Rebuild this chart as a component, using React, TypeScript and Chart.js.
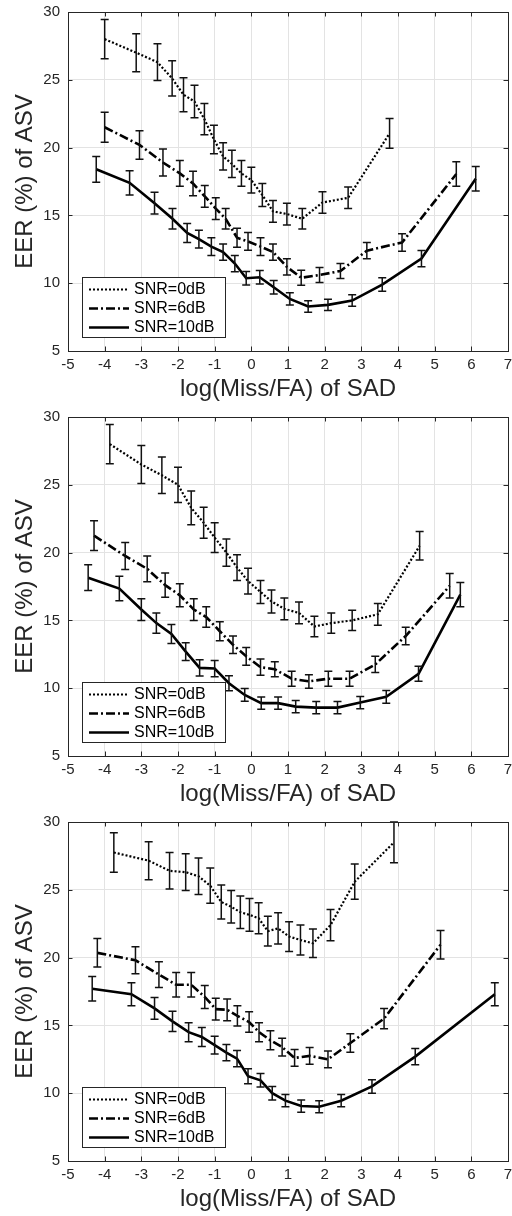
import React, { useEffect, useRef } from "react";
import { Chart, registerables } from "chart.js";

Chart.register(...registerables);

// ---------- shared labels / ticks ----------
const seriesLabels = ["SNR=0dB", "SNR=6dB", "SNR=10dB"];
const xTickValues = [-5, -4, -3, -2, -1, 0, 1, 2, 3, 4, 5, 6, 7];
const yTickValues = [5, 10, 15, 20, 25, 30];
const xTitle = "log(Miss/FA) of SAD";
const yTitle = "EER (%) of ASV";

// ---------- panel 1 ----------
const p1x0 = [-4.0, -3.14, -2.56, -2.16, -1.85, -1.55, -1.28, -1.02, -0.77, -0.53, -0.27, 0.0, 0.3, 0.59, 0.97, 1.39, 1.94, 2.64, 3.77];
const p1y0 = [28.0, 27.0, 26.3, 25.1, 23.9, 23.4, 22.1, 20.6, 19.35, 18.8, 18.1, 17.6, 16.5, 15.3, 15.1, 14.75, 15.95, 16.3, 21.05];
const p1e0 = [1.45, 1.4, 1.35, 1.3, 1.25, 1.2, 1.15, 1.05, 1.0, 1.0, 0.95, 0.95, 0.85, 0.8, 0.8, 0.75, 0.8, 0.8, 1.1];

const p1x1 = [-4.0, -3.05, -2.41, -1.95, -1.59, -1.27, -0.97, -0.7, -0.39, -0.09, 0.25, 0.59, 0.97, 1.36, 1.86, 2.43, 3.15, 4.11, 5.59];
const p1y1 = [21.5, 20.2, 18.9, 18.1, 17.35, 16.4, 15.5, 14.75, 13.35, 13.08, 12.7, 12.3, 11.2, 10.4, 10.6, 10.9, 12.4, 13.0, 18.05];
const p1e1 = [1.1, 1.05, 1.0, 0.95, 0.9, 0.8, 0.8, 0.75, 0.7, 0.65, 0.65, 0.6, 0.6, 0.55, 0.55, 0.55, 0.6, 0.65, 0.9];

const p1x2 = [-4.23, -3.32, -2.64, -2.15, -1.75, -1.43, -1.09, -0.77, -0.45, -0.14, 0.23, 0.61, 1.05, 1.55, 2.09, 2.75, 3.57, 4.64, 6.12];
const p1y2 = [18.4, 17.4, 15.9, 14.75, 13.7, 13.25, 12.7, 12.3, 11.45, 10.37, 10.44, 9.7, 8.84, 8.28, 8.4, 8.72, 9.9, 11.82, 17.7];
const p1e2 = [0.95, 0.9, 0.8, 0.75, 0.7, 0.65, 0.65, 0.6, 0.6, 0.5, 0.5, 0.5, 0.45, 0.42, 0.42, 0.42, 0.5, 0.6, 0.9];

// ---------- panel 2 ----------
const p2x0 = [-3.86, -3.0, -2.44, -2.0, -1.64, -1.3, -1.0, -0.68, -0.39, -0.09, 0.25, 0.55, 0.9, 1.3, 1.72, 2.18, 2.75, 3.45, 4.59];
const p2y0 = [28.0, 26.5, 25.7, 25.0, 23.3, 22.2, 21.1, 20.0, 18.9, 17.9, 17.1, 16.4, 15.85, 15.55, 14.55, 14.8, 15.0, 15.45, 20.5];
const p2e0 = [1.45, 1.4, 1.35, 1.3, 1.25, 1.15, 1.1, 1.0, 0.95, 0.95, 0.85, 0.85, 0.8, 0.8, 0.75, 0.75, 0.75, 0.8, 1.05];

const p2x1 = [-4.29, -3.44, -2.84, -2.35, -1.95, -1.57, -1.23, -0.86, -0.5, -0.14, 0.25, 0.64, 1.1, 1.57, 2.1, 2.68, 3.38, 4.21, 5.41];
const p2y1 = [21.25, 19.75, 18.8, 17.6, 16.85, 15.8, 15.25, 14.2, 13.2, 12.35, 11.55, 11.4, 10.7, 10.5, 10.7, 10.7, 11.75, 13.85, 17.55];
const p2e1 = [1.1, 1.0, 0.95, 0.9, 0.85, 0.8, 0.75, 0.7, 0.65, 0.65, 0.6, 0.55, 0.55, 0.5, 0.55, 0.55, 0.6, 0.65, 0.9];

const p2x2 = [-4.45, -3.6, -3.0, -2.59, -2.18, -1.79, -1.41, -1.0, -0.61, -0.18, 0.27, 0.73, 1.21, 1.77, 2.35, 2.97, 3.68, 4.56, 5.7];
const p2y2 = [18.15, 17.35, 15.8, 14.8, 14.0, 12.7, 11.5, 11.45, 10.37, 9.5, 8.9, 8.9, 8.64, 8.57, 8.57, 8.94, 9.36, 11.06, 16.9];
const p2e2 = [0.95, 0.9, 0.8, 0.75, 0.7, 0.65, 0.6, 0.6, 0.55, 0.47, 0.45, 0.45, 0.45, 0.45, 0.45, 0.45, 0.47, 0.55, 0.9];

// ---------- panel 3 ----------
const p3x0 = [-3.75, -2.8, -2.23, -1.79, -1.44, -1.12, -0.82, -0.55, -0.3, -0.05, 0.2, 0.45, 0.73, 1.03, 1.34, 1.68, 2.16, 2.82, 3.89];
const p3y0 = [27.75, 27.15, 26.4, 26.3, 26.0, 25.3, 24.1, 23.75, 23.35, 23.15, 22.9, 21.95, 22.15, 21.55, 21.3, 21.05, 22.4, 25.6, 28.5];
const p3e0 = [1.45, 1.4, 1.35, 1.35, 1.35, 1.3, 1.25, 1.2, 1.2, 1.2, 1.15, 1.1, 1.15, 1.1, 1.1, 1.05, 1.15, 1.3, 1.5];

const p3x1 = [-4.2, -3.16, -2.52, -2.05, -1.64, -1.27, -0.97, -0.66, -0.38, -0.06, 0.21, 0.52, 0.84, 1.18, 1.59, 2.09, 2.7, 3.62, 5.16];
const p3y1 = [20.35, 19.8, 18.75, 18.0, 18.0, 17.1, 16.2, 16.15, 15.7, 15.25, 14.5, 13.9, 13.4, 12.6, 12.75, 12.5, 13.7, 15.5, 20.95];
const p3e1 = [1.05, 1.0, 0.95, 0.9, 0.9, 0.85, 0.8, 0.8, 0.75, 0.75, 0.7, 0.7, 0.65, 0.62, 0.62, 0.62, 0.68, 0.75, 1.05];

const p3x2 = [-4.34, -3.27, -2.64, -2.15, -1.71, -1.35, -1.0, -0.68, -0.39, -0.09, 0.25, 0.57, 0.93, 1.36, 1.85, 2.45, 3.29, 4.47, 6.64];
const p3y2 = [17.7, 17.3, 16.25, 15.3, 14.5, 14.15, 13.55, 13.0, 12.55, 11.25, 10.95, 10.0, 9.45, 9.05, 9.0, 9.45, 10.5, 12.7, 17.3];
const p3e2 = [0.9, 0.85, 0.8, 0.75, 0.7, 0.7, 0.65, 0.6, 0.6, 0.55, 0.5, 0.5, 0.45, 0.45, 0.45, 0.45, 0.5, 0.6, 0.85];

type Series = { x: number[]; y: number[]; e: number[] };

const panels: Series[][] = [
  [
    { x: p1x0, y: p1y0, e: p1e0 },
    { x: p1x1, y: p1y1, e: p1e1 },
    { x: p1x2, y: p1y2, e: p1e2 },
  ],
  [
    { x: p2x0, y: p2y0, e: p2e0 },
    { x: p2x1, y: p2y1, e: p2e1 },
    { x: p2x2, y: p2y2, e: p2e2 },
  ],
  [
    { x: p3x0, y: p3y0, e: p3e0 },
    { x: p3x1, y: p3y1, e: p3e1 },
    { x: p3x2, y: p3y2, e: p3e2 },
  ],
];

// ---------- styles ----------
const FONT = "'Liberation Sans', Arial, Helvetica, sans-serif";
const lineWidths = [2.2, 2.6, 2.6];
const lineDashes: number[][] = [[2, 2], [9, 3, 2, 3], []];
const AXIS_COLOR = "#262626";
const W = 512;
const H = 405;

const errorBarPlugin = {
  id: "errorBars",
  afterDatasetsDraw(chart: any) {
    const ctx = chart.ctx;
    const yScale = chart.scales.y;
    ctx.save();
    ctx.strokeStyle = "#111";
    ctx.lineWidth = 1.5;
    ctx.setLineDash([]);
    chart.data.datasets.forEach((ds: any, di: number) => {
      const meta = chart.getDatasetMeta(di);
      meta.data.forEach((pt: any, i: number) => {
        const v = ds.data[i].y;
        const err = ds.errors[i];
        const x = pt.x;
        const yTop = yScale.getPixelForValue(v + err);
        const yBot = yScale.getPixelForValue(v - err);
        ctx.beginPath();
        ctx.moveTo(x, yTop);
        ctx.lineTo(x, yBot);
        ctx.moveTo(x - 4, yTop);
        ctx.lineTo(x + 4, yTop);
        ctx.moveTo(x - 4, yBot);
        ctx.lineTo(x + 4, yBot);
        ctx.stroke();
      });
    });
    ctx.restore();
  },
};

const framePlugin = {
  id: "matlabFrame",
  afterDraw(chart: any) {
    const ctx = chart.ctx;
    const { left, right, top, bottom } = chart.chartArea;
    const xs = chart.scales.x;
    const ys = chart.scales.y;
    ctx.save();
    ctx.setLineDash([]);
    ctx.strokeStyle = AXIS_COLOR;
    ctx.lineWidth = 1;
    // box
    ctx.strokeRect(Math.round(left) + 0.5, Math.round(top) + 0.5, Math.round(right - left), Math.round(bottom - top));
    // inward ticks
    ctx.beginPath();
    xs.ticks.forEach((t: any) => {
      const px = Math.round(xs.getPixelForValue(t.value)) + 0.5;
      ctx.moveTo(px, bottom);
      ctx.lineTo(px, bottom - 4.5);
      ctx.moveTo(px, top);
      ctx.lineTo(px, top + 4.5);
    });
    ys.ticks.forEach((t: any) => {
      const py = Math.round(ys.getPixelForValue(t.value)) + 0.5;
      ctx.moveTo(left, py);
      ctx.lineTo(left + 4.5, py);
      ctx.moveTo(right, py);
      ctx.lineTo(right - 4.5, py);
    });
    ctx.stroke();

    // legend box
    const bx = Math.round(left + 13.5) + 0.5;
    const bw = 143;
    const bh = 60;
    const by = Math.round(bottom - 14.5 - bh) + 0.5;
    ctx.fillStyle = "#fff";
    ctx.fillRect(bx, by, bw, bh);
    ctx.strokeStyle = "#262626";
    ctx.lineWidth = 1;
    ctx.strokeRect(bx, by, bw, bh);
    const rows = [12, 31, 50];
    chart.data.datasets.forEach((ds: any, i: number) => {
      const ry = by + rows[i];
      ctx.strokeStyle = "#000";
      ctx.lineWidth = ds.borderWidth;
      ctx.setLineDash(ds.borderDash || []);
      ctx.beginPath();
      ctx.moveTo(bx + 6.5, ry);
      ctx.lineTo(bx + 46.5, ry);
      ctx.stroke();
      ctx.setLineDash([]);
      ctx.fillStyle = "#000";
      ctx.font = `16px ${FONT}`;
      ctx.textBaseline = "middle";
      ctx.textAlign = "left";
      ctx.fillText(ds.label, bx + 51.5, ry + 0.5);
    });
    ctx.restore();
  },
};

function Panel({ sets }: { sets: Series[] }) {
  const ref = useRef<HTMLCanvasElement>(null);
  useEffect(() => {
    const chart = new Chart(ref.current as HTMLCanvasElement, {
      type: "line",
      data: {
        datasets: sets.map((s, i) => ({
          label: seriesLabels[i],
          data: s.x.map((x, j) => ({ x, y: s.y[j] })),
          errors: s.e,
          borderColor: "#000",
          backgroundColor: "#000",
          borderWidth: lineWidths[i],
          borderDash: lineDashes[i],
          borderCapStyle: "butt",
          pointRadius: 0,
          tension: 0,
          fill: false,
        })) as any,
      },
      options: {
        responsive: false,
        animation: false,
        events: [],
        layout: { padding: { top: 12, right: 4, left: 0, bottom: 0 } },
        plugins: { legend: { display: false }, tooltip: { enabled: false } },
        scales: {
          x: {
            type: "linear",
            min: -5,
            max: 7,
            afterBuildTicks: (scale: any) => {
              scale.ticks = xTickValues.map((v) => ({ value: v }));
            },
            afterFit: (scale: any) => {
              scale.height = 54;
              scale.paddingLeft = 0;
              scale.paddingRight = 0;
            },
            ticks: {
              autoSkip: false,
              maxRotation: 0,
              padding: 5,
              color: AXIS_COLOR,
              font: { family: FONT, size: 15 },
            },
            grid: { color: "#e3e3e3", lineWidth: 1, drawTicks: false },
            border: { display: false },
            title: {
              display: true,
              text: xTitle,
              color: AXIS_COLOR,
              font: { family: FONT, size: 24, lineHeight: 1.2 },
              padding: { top: 0, bottom: 1 },
            },
          },
          y: {
            type: "linear",
            min: 5,
            max: 30,
            afterBuildTicks: (scale: any) => {
              scale.ticks = yTickValues.map((v) => ({ value: v }));
            },
            afterFit: (scale: any) => {
              scale.width = 68;
              scale.paddingTop = 0;
              scale.paddingBottom = 0;
            },
            ticks: {
              padding: 8,
              color: AXIS_COLOR,
              font: { family: FONT, size: 15 },
            },
            grid: { color: "#e3e3e3", lineWidth: 1, drawTicks: false },
            border: { display: false },
            title: {
              display: true,
              text: yTitle,
              color: AXIS_COLOR,
              font: { family: FONT, size: 24, lineHeight: 1.2 },
              padding: { top: 11, bottom: 0 },
            },
          },
        },
      } as any,
      plugins: [errorBarPlugin, framePlugin],
    });
    return () => chart.destroy();
  }, [sets]);
  return <canvas ref={ref} width={W} height={H} style={{ display: "block", width: W, height: H }} />;
}

export default function App() {
  return (
    <div style={{ position: "absolute", left: 0, top: 0, width: W, background: "#fff" }}>
      {panels.map((p, i) => (
        <Panel key={i} sets={p} />
      ))}
    </div>
  );
}
